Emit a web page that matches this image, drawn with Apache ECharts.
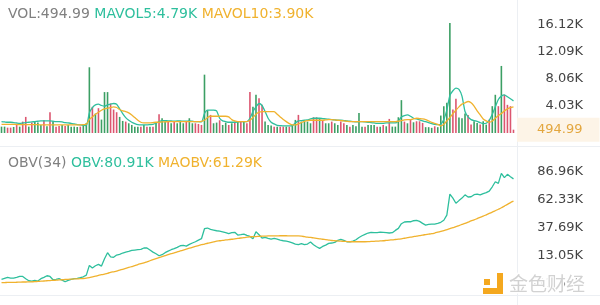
<!DOCTYPE html>
<html>
<head>
<meta charset="utf-8">
<script src="https://cdn.jsdelivr.net/npm/echarts@6/dist/echarts.min.js"></script>
<style>
  html, body { margin: 0; padding: 0; background: #ffffff; }
  #chart { width: 600px; height: 305px; }
</style>
</head>
<body>
<div id="chart"></div>
<script>
// Traded volume per period (raw units)
const volume = [
  950, 950, 800, 800, 900, 1400, 950, 1700, 2400, 950,
  1550, 1700, 1550, 1200, 1900, 1000, 3100, 1700, 950, 1050,
  1200, 1050, 1200, 950, 950, 900, 950, 1200, 1500, 9800,
  3900, 2900, 3700, 2000, 6100, 6100, 4400, 3500, 3100, 2400,
  1800, 1700, 1450, 1200, 950, 950, 950, 1200, 950, 950,
  950, 1550, 2800, 2200, 1700, 1700, 1450, 1700, 1450, 1700,
  1450, 1700, 2200, 1450, 1450, 1350, 1200, 8700, 3400, 2700,
  1450, 1550, 1900, 1200, 1550, 1200, 1450, 1700, 1700, 1700,
  1700, 1450, 6100, 3900, 5700, 5200, 4200, 1700, 1200, 1100,
  950, 950, 950, 950, 950, 950, 1200, 1950, 2700, 1700,
  1700, 1700, 1450, 2350, 2350, 2200, 1900, 1450, 1450, 1700,
  1450, 1200, 1700, 1450, 1200, 950, 1200, 1000, 3000, 950,
  950, 1200, 1200, 1200, 950, 950, 1200, 1000, 2100, 950,
  950, 2350, 4900, 1700, 1450, 1950, 1600, 1750, 1750, 1500,
  870, 870, 770, 1000, 870, 2600, 4000, 4500, 16400, 3500,
  5100, 2300, 2200, 2900, 2700, 1250, 1750, 1500, 1250, 1750,
  1250, 2000, 4000, 5700, 4000, 10000, 5700, 4200, 4000, 494.99
];

// Candle direction for each period: 1 = close up, -1 = close down
const volDir = [
  1, 1, -1, -1, 1, -1, 1, -1, -1, 1,
  -1, 1, 1, 1, -1, 1, -1, 1, -1, -1,
  1, -1, 1, 1, 1, 1, -1, 1, 1, 1,
  -1, 1, -1, 1, 1, 1, -1, -1, -1, 1,
  1, -1, 1, 1, 1, 1, -1, 1, -1, 1,
  -1, 1, -1, 1, 1, -1, 1, -1, 1, 1,
  1, -1, 1, 1, -1, -1, -1, 1, 1, -1,
  1, 1, -1, 1, 1, -1, 1, -1, 1, -1,
  1, -1, -1, 1, 1, -1, -1, 1, 1, 1,
  -1, 1, -1, -1, 1, -1, 1, 1, -1, 1,
  1, 1, 1, -1, -1, 1, -1, 1, 1, -1,
  1, 1, -1, -1, 1, -1, 1, 1, 1, 1,
  -1, 1, 1, 1, -1, 1, -1, 1, -1, 1,
  1, 1, 1, -1, 1, -1, 1, -1, -1, -1,
  1, 1, 1, -1, 1, 1, 1, 1, 1, -1,
  -1, 1, 1, 1, -1, -1, 1, 1, -1, 1,
  1, -1, 1, 1, -1, 1, -1, -1, -1, -1
];

// 5-period moving average of volume
const mavol5 = [
  1700, 1650, 1600, 1600, 1550, 1500, 1450, 1500, 1550, 1600,
  1650, 1700, 1750, 1800, 1800, 1800, 1800, 1750, 1700, 1700,
  1650, 1550, 1500, 1450, 1350, 1250, 1200, 1150, 1100, 3000,
  3800, 4200, 4300, 4100, 4000, 4200, 4300, 4400, 4300, 3600,
  2900, 2300, 1900, 1600, 1400, 1250, 1200, 1200, 1200, 1250,
  1300, 1450, 1700, 1850, 1850, 1800, 1800, 1750, 1800, 1800,
  1750, 1750, 1800, 1750, 1700, 1700, 1650, 2900, 3400, 3400,
  3400, 3300, 2200, 1800, 1700, 1600, 1600, 1600, 1650, 1700,
  1700, 1700, 2200, 3200, 3900, 4400, 4100, 3200, 2200, 1600,
  1350, 1150, 1100, 1050, 1050, 1050, 1100, 1500, 1800, 1850,
  1900, 1950, 2100, 2200, 2200, 2200, 2150, 2100, 2050, 2000,
  1950, 1900, 1900, 1850, 1800, 1750, 1700, 1650, 1700, 1700,
  1650, 1600, 1550, 1500, 1450, 1450, 1450, 1500, 1500, 1500,
  1500, 1800, 2400, 2600, 2700, 2500, 2200, 2100, 1950, 1800,
  1700, 1550, 1400, 1300, 1250, 1300, 2000, 3400, 5600, 6300,
  6700, 6500, 5500, 3200, 2400, 2000, 1850, 1750, 1550, 1400,
  1450, 1900, 2800, 3900, 5000, 5500, 5700, 5400, 5100, 4790
];

// 10-period moving average of volume
const mavol10 = [
  1300, 1300, 1300, 1300, 1300, 1250, 1250, 1250, 1250, 1250,
  1250, 1250, 1250, 1200, 1200, 1200, 1200, 1200, 1200, 1200,
  1200, 1200, 1200, 1200, 1200, 1200, 1200, 1250, 1300, 2000,
  2400, 2800, 3100, 3400, 3600, 3700, 3800, 3900, 3800, 3500,
  3300, 3200, 3000, 2700, 2300, 1900, 1600, 1500, 1500, 1500,
  1550, 1600, 1600, 1650, 1650, 1700, 1700, 1700, 1700, 1700,
  1700, 1700, 1700, 1700, 1700, 1700, 1750, 1900, 2300, 2500,
  2500, 2500, 2500, 2500, 2500, 2400, 2000, 1800, 1700, 1700,
  1700, 1700, 1900, 2300, 2800, 3100, 3200, 3200, 3200, 3200,
  3200, 2800, 2400, 2000, 1700, 1400, 1200, 1200, 1350, 1550,
  1750, 1850, 1900, 1900, 1900, 1900, 1900, 1950, 2000, 2000,
  1950, 1900, 1850, 1800, 1750, 1700, 1700, 1700, 1700, 1700,
  1700, 1700, 1700, 1700, 1700, 1700, 1700, 1700, 1700, 1700,
  1700, 1750, 1850, 1950, 2000, 2000, 2100, 2200, 2150, 2100,
  2000, 1800, 1600, 1450, 1300, 1050, 1300, 1800, 2300, 2900,
  3400, 3900, 4300, 4500, 4700, 4500, 4000, 3300, 2700, 2100,
  1800, 1600, 1800, 2200, 2600, 2900, 3300, 3600, 3800, 3900
];

// On-balance volume
const obv = [
  -7500, -6600, -5700, -6300, -6300, -5700, -4900, -4900, -6900, -8700,
  -9000, -8400, -9000, -6900, -5700, -4300, -4900, -7800, -7500, -6900,
  -8100, -9600, -8400, -7500, -6900, -6600, -6000, -5200, -3700, 4800,
  2500, 4500, 5700, 4200, 10700, 16000, 12400, 11900, 13900, 14500,
  15700, 16500, 17100, 18000, 18300, 18600, 18900, 20100, 20100, 18300,
  16500, 15100, 13300, 14200, 16000, 17400, 18600, 19500, 20700, 22100,
  22400, 21800, 23300, 24500, 25600, 27100, 28300, 37100, 37700, 36500,
  35900, 35300, 35000, 34400, 33600, 32700, 33600, 33900, 31500, 31800,
  32400, 31200, 30300, 28300, 34400, 31800, 28900, 29500, 28600, 28000,
  28600, 28000, 27100, 26500, 26200, 25600, 24700, 23600, 23000, 23900,
  23000, 23600, 25400, 23000, 21200, 19800, 21500, 22700, 24200, 24500,
  25100, 26800, 27700, 26800, 25600, 25600, 26200, 27400, 29400, 30900,
  32100, 33300, 33900, 33600, 33600, 34100, 33900, 33600, 33300, 33600,
  35600, 37400, 41500, 43000, 43200, 43200, 44100, 44400, 43500, 41800,
  40300, 40900, 41200, 41200, 41800, 42700, 44500, 49000, 67500, 64000,
  59500, 61800, 64000, 66900, 65000, 65200, 67000, 67500, 66800, 68000,
  68800, 70200, 74000, 78400, 77000, 85800, 82000, 84900, 82800, 80910
];

// 34-period moving average of OBV
const maobv = [
  -10400, -10300, -10200, -10100, -10100, -10000, -9900, -9800, -9800, -9700,
  -9600, -9500, -9300, -9100, -8900, -8700, -8500, -8400, -8200, -8000,
  -7800, -7600, -7400, -7300, -7100, -7000, -6900, -6700, -6400, -5900,
  -5300, -4700, -4000, -3400, -2800, -2100, -1400, -800, -200, 600,
  1400, 2200, 3000, 3800, 4600, 5500, 6300, 7100, 8000, 8900,
  9800, 10700, 11600, 12500, 13400, 14300, 15100, 15800, 16700, 17500,
  18300, 19100, 19900, 20700, 21500, 22300, 23000, 23600, 24300, 24900,
  25500, 26200, 26500, 26900, 27200, 27500, 27800, 28200, 28500, 28900,
  29200, 29600, 30000, 30200, 30200, 30400, 30500, 30600, 30700, 30700,
  30700, 30800, 30900, 30900, 30900, 30800, 30800, 30700, 30700, 30500,
  30100, 29700, 29400, 29000, 28600, 28200, 27800, 27500, 27100, 26700,
  26500, 26300, 26100, 26000, 25800, 25600, 25600, 25600, 25600, 25600,
  25600, 25700, 25900, 26000, 26200, 26300, 26500, 26800, 27100, 27300,
  27600, 27900, 28200, 28700, 29200, 29600, 30100, 30600, 31000, 31500,
  31900, 32300, 32700, 33300, 34000, 34700, 35400, 36300, 37200, 38000,
  39000, 39900, 40800, 41700, 42800, 43900, 44900, 46000, 47100, 48100,
  49300, 50500, 51700, 52900, 54200, 55500, 57000, 58500, 60100, 61290
];

// Axis tick values shown on the right-hand scales
const volTicks = [4030, 8060, 12090, 16120];
const obvTicks = [-11590, 13050, 37690, 62330, 86960];

const FONT = 'DejaVu Sans';
const UP = '#3c9f64';
const DOWN = '#dc5670';
const TEAL = '#2ebf9d';
const GOLD = '#f0b22e';
const GRAY = '#808080';
const AXIS_TEXT = '#444444';
const RULE = '#eceff3';

const fmt = v => Math.abs(v) >= 1000 ? (v / 1000).toFixed(2) + 'K' : v.toFixed(2);
const last = arr => arr[arr.length - 1];
const cats = volume.map((_, i) => i);

const chart = echarts.init(document.getElementById('chart'), null, { renderer: 'canvas' });

const richBase = { fontFamily: FONT, fontSize: 14, lineHeight: 16 };
const titleStyle = {
  fontFamily: FONT, fontSize: 14, lineHeight: 16, fontWeight: 'normal',
  rich: {
    g: Object.assign({ color: GRAY }, richBase),
    t: Object.assign({ color: TEAL }, richBase),
    o: Object.assign({ color: GOLD }, richBase)
  }
};

const option = {
  animation: false,
  backgroundColor: '#ffffff',
  title: [
    {
      left: 8, top: 6, padding: 0, textStyle: titleStyle,
      text: '{g|VOL:' + fmt(last(volume)) + '} {t|MAVOL5:' + fmt(last(mavol5)) + '} {o|MAVOL10:' + fmt(last(mavol10)) + '}'
    },
    {
      left: 8, top: 155.5, padding: 0, textStyle: titleStyle,
      text: '{g|OBV(34)} {t|OBV:' + fmt(last(obv)) + '} {o|MAOBV:' + fmt(last(maobv)) + '}'
    }
  ],
  grid: [
    { left: 0, width: 515, top: 19, height: 114 },
    { left: 0, width: 515, top: 157.2, height: 136.4 }
  ],
  xAxis: [
    { type: 'category', gridIndex: 0, data: cats, show: false, boundaryGap: true },
    { type: 'category', gridIndex: 1, data: cats, show: false, boundaryGap: true }
  ],
  yAxis: [
    {
      type: 'value', gridIndex: 0, position: 'right', min: 0, max: 17000,
      splitLine: { show: false }, axisLine: { show: false }, axisTick: { show: false },
      axisLabel: {
        customValues: volTicks, formatter: fmt, align: 'right', margin: 68,
        color: AXIS_TEXT, fontFamily: FONT, fontSize: 13
      }
    },
    {
      type: 'value', gridIndex: 1, position: 'right', min: -20000, max: 100000,
      splitLine: { show: false }, axisLine: { show: false }, axisTick: { show: false },
      axisLabel: {
        customValues: obvTicks, formatter: fmt, align: 'right', margin: 68,
        showMinLabel: true, showMaxLabel: true,
        color: AXIS_TEXT, fontFamily: FONT, fontSize: 13
      }
    }
  ],
  series: [
    {
      name: 'VOL', type: 'bar', xAxisIndex: 0, yAxisIndex: 0, barWidth: 1.6,
      data: volume.map((v, i) => ({ value: v, itemStyle: { color: volDir[i] > 0 ? UP : DOWN } })),
      markLine: {
        silent: true, symbol: ['none', 'none'], animation: false,
        lineStyle: { color: 'rgba(0,0,0,0)', width: 1, type: 'solid' },
        label: {
          show: true, position: 'end', distance: 2,
          formatter: p => fmt(p.value),
          color: '#e3a63e', fontFamily: FONT, fontSize: 13, lineHeight: 14,
          backgroundColor: '#fdf4e7', padding: [5, 17, 5, 20]
        },
        emphasis: { disabled: true },
        data: [{ yAxis: last(volume) }]
      }
    },
    {
      name: 'MAVOL5', type: 'line', xAxisIndex: 0, yAxisIndex: 0, data: mavol5,
      showSymbol: false, smooth: 0.2, lineStyle: { color: TEAL, width: 1.3 }
    },
    {
      name: 'MAVOL10', type: 'line', xAxisIndex: 0, yAxisIndex: 0, data: mavol10,
      showSymbol: false, smooth: 0.2, lineStyle: { color: GOLD, width: 1.3 }
    },
    {
      name: 'OBV', type: 'line', xAxisIndex: 1, yAxisIndex: 1, data: obv,
      showSymbol: false, lineStyle: { color: TEAL, width: 1.3 }
    },
    {
      name: 'MAOBV', type: 'line', xAxisIndex: 1, yAxisIndex: 1, data: maobv,
      showSymbol: false, smooth: 0.3, lineStyle: { color: GOLD, width: 1.3 }
    }
  ],
  graphic: [
    // panel rules
    { type: 'line', z: -1, shape: { x1: 517.5, y1: 0, x2: 517.5, y2: 305 }, style: { stroke: RULE, lineWidth: 1 } },
    { type: 'line', z: -1, shape: { x1: 0, y1: 146.5, x2: 600, y2: 146.5 }, style: { stroke: RULE, lineWidth: 1 } },
    { type: 'line', z: -1, shape: { x1: 0, y1: 295.5, x2: 600, y2: 295.5 }, style: { stroke: RULE, lineWidth: 1 } },
    // brand mark
    { type: 'rect', z: 100, shape: { x: 497, y: 273, width: 6, height: 21 }, style: { fill: '#f4a81f' } },
    { type: 'rect', z: 100, shape: { x: 483, y: 288, width: 20, height: 6 }, style: { fill: '#f4a81f' } },
    { type: 'rect', z: 100, shape: { x: 484, y: 279, width: 6, height: 6 }, style: { fill: '#f4a81f' } },
    {
      type: 'text', z: 100, x: 509, y: 284,
      style: {
        text: '金色财经', fill: '#d2d2d2', stroke: '#ffffff', lineWidth: 3,
        font: '19px "Noto Sans CJK SC"', verticalAlign: 'middle', textAlign: 'left'
      }
    }
  ]
};

chart.setOption(option);
</script>
</body>
</html>
